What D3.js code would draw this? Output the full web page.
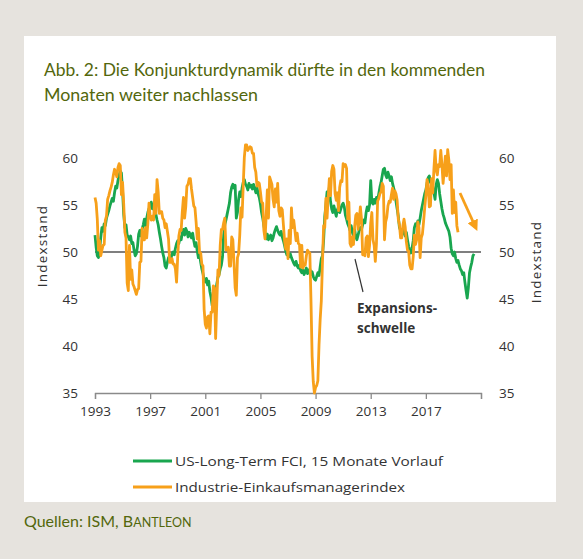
<!DOCTYPE html>
<html><head><meta charset="utf-8">
<script src="https://cdn.jsdelivr.net/npm/d3@7"></script>
<style>
html,body{margin:0;padding:0;background:#e6e3de;}
svg{display:block;}
</style></head>
<body>
<svg id="c" width="583" height="559"></svg>
<script>
// ---------- data ----------
const startYear = 1993;
const xTickYears = [1993, 1997, 2001, 2005, 2009, 2013, 2017, 2021];
const xTickLabels = ["1993", "1997", "2001", "2005", "2009", "2013", "2017", ""];
const yTicks = [35, 40, 45, 50, 55, 60];
const threshold = 50;
const seriesNames = ["US-Long-Term FCI, 15 Monate Vorlauf", "Industrie-Einkaufsmanagerindex"];
const titleLines = ["Abb. 2: Die Konjunkturdynamik dürfte in den kommenden", "Monaten weiter nachlassen"];
const axisTitle = "Indexstand";
const annotation = ["Expansions-", "schwelle"];

// US-Long-Term FCI (15 months lead), monthly from Jan 1993
const fci = [
  51.8, 50.5, 49.6, 49.4, 50.2, 51.5, 52.6, 52.2, 53.0, 52.8, 53.6, 54.0,
  54.4, 54.9, 55.3, 55.7, 55.4, 56.3, 57.0, 56.8, 57.6, 58.2, 58.6, 58.4,
  56.5, 54.0, 52.6, 52.9, 51.8, 51.6, 51.3, 51.7, 50.9, 51.0, 50.2, 49.6,
  49.8, 50.6, 51.9, 52.3, 51.7, 52.4, 52.9, 53.5, 52.8, 53.6, 54.2, 54.6,
  54.9, 55.3, 54.6, 55.1, 54.4, 54.0, 53.4, 52.9, 52.1, 51.4, 50.6, 49.9,
  49.4, 48.5, 48.3, 48.9, 49.4, 49.6, 49.2, 49.8, 50.0, 49.7, 50.4, 50.9,
  51.2, 50.9, 51.6, 51.3, 52.0, 52.4, 51.8, 52.5, 52.2, 51.6, 52.1, 51.8,
  51.5, 52.0, 51.2, 50.6, 51.0, 50.1, 49.4, 49.8, 48.9, 48.2, 47.7, 47.0,
  46.8, 47.2, 46.5, 46.9, 45.8, 45.2, 44.3, 45.0, 44.6, 45.5, 46.6, 47.3,
  47.6, 48.2, 48.6, 49.5, 51.8, 52.9, 53.4, 54.0, 54.6, 55.2, 56.3, 56.9,
  57.2, 56.8, 57.1, 53.6, 54.2, 55.6, 56.4, 55.9, 56.8, 57.4, 57.7, 57.2,
  57.0, 56.6, 57.3, 56.9, 57.1, 56.7, 57.2, 56.8, 56.3, 56.9, 56.2, 55.8,
  55.1, 54.2, 53.6, 52.8, 52.1, 51.4, 51.9, 51.3, 51.6, 51.8, 51.2, 51.5,
  52.0, 52.4, 52.7, 52.3, 52.0, 51.8, 52.2, 51.6, 51.2, 50.7, 50.1, 49.7,
  49.9, 49.5, 49.8, 49.4, 49.1, 48.8, 48.6, 49.0, 48.5, 48.3, 48.6, 48.0,
  47.8, 48.1, 47.6, 47.9, 48.3, 47.7, 48.0, 48.2, 47.6, 47.9, 47.4, 47.1,
  47.0, 47.4, 47.8, 47.5, 48.4, 49.3, 49.6, 51.2, 53.8, 55.0, 56.4, 55.8,
  56.9, 55.4, 54.6, 54.2, 54.9, 54.3, 53.8, 54.5, 54.8, 54.2, 54.6, 55.0,
  55.2, 54.8, 53.9, 53.5, 53.0, 52.7, 52.3, 52.8, 52.1, 51.7, 52.4, 51.6,
  51.3, 51.8, 52.3, 52.6, 52.4, 52.9, 53.4, 53.1, 54.2, 54.8, 54.4, 55.0,
  57.6, 55.3, 55.1, 55.6, 55.2, 55.8, 55.5, 56.2, 56.9, 57.4, 58.1, 58.8,
  58.9, 58.2, 57.9, 58.5, 58.1, 57.6, 58.0, 57.3, 56.8, 56.3, 55.4, 54.6,
  53.8, 52.6, 52.3, 51.9, 52.4, 52.0, 51.7, 52.1, 51.3, 50.6, 50.2, 49.9,
  50.4, 51.2, 52.6, 53.0, 52.8, 53.3, 52.9, 53.6, 54.4, 55.0, 55.6, 56.2,
  56.6, 57.3, 57.9, 58.1, 57.4, 57.6, 57.0, 56.3, 55.6, 57.2, 57.7, 57.3,
  56.2, 55.4, 54.6, 54.0, 53.6, 53.1, 52.8, 52.5, 52.2, 51.6, 50.4, 49.8,
  49.6, 50.0, 49.3, 48.9, 49.1, 48.6, 48.2, 48.0, 47.6, 47.8, 46.8, 45.9,
  45.1, 46.2, 47.8, 48.4, 48.9, 49.6, 49.8
];

// ISM manufacturing PMI, monthly from Jan 1993
const ism = [
  55.8, 55.2, 53.5, 50.2, 51.2, 49.6, 50.2, 50.7, 50.8, 53.4, 53.8, 55.6,
  56.0, 56.5, 56.9, 57.4, 58.2, 58.8, 58.5, 58.0, 59.0, 59.4, 59.2, 56.1,
  57.4, 55.1, 52.1, 51.5, 46.7, 45.9, 50.7, 47.1, 48.1, 46.6, 46.3, 45.9,
  45.5, 46.0, 46.1, 48.9, 49.0, 52.5, 51.3, 51.3, 52.6, 51.5, 53.0, 55.2,
  53.8, 53.4, 53.8, 53.4, 56.1, 54.1, 57.7, 56.4, 54.1, 54.3, 54.3, 53.6,
  53.4, 52.6, 53.0, 52.2, 51.4, 48.9, 48.9, 49.3, 48.7, 48.7, 48.2, 46.8,
  49.5, 51.7, 52.4, 52.3, 54.3, 55.8, 53.6, 54.8, 57.0, 57.2, 57.8, 57.8,
  56.7, 55.8, 54.9, 54.7, 53.2, 51.4, 52.5, 49.9, 49.9, 48.7, 48.5, 43.9,
  42.3, 41.9, 43.1, 43.2, 41.3, 43.6, 43.6, 46.4, 46.2, 40.8, 44.5, 48.1,
  47.5, 50.7, 52.4, 52.4, 53.1, 53.6, 50.2, 50.3, 50.5, 48.5, 48.5, 51.6,
  51.3, 48.8, 46.2, 45.4, 49.4, 49.8, 51.8, 54.7, 53.7, 57.0, 60.1, 61.4,
  61.4, 60.8, 61.0, 61.2, 61.1, 60.5, 60.5, 59.0, 58.5, 57.0, 57.4, 57.3,
  56.4, 55.3, 55.2, 52.3, 51.4, 53.8, 56.6, 53.6, 58.0, 57.6, 57.2, 55.6,
  54.8, 56.7, 55.3, 57.3, 54.4, 53.8, 54.7, 54.5, 52.9, 51.2, 50.3, 51.4,
  49.3, 52.3, 50.9, 54.7, 52.6, 53.4, 52.3, 51.2, 52.0, 50.9, 50.8, 48.4,
  50.7, 48.3, 48.6, 48.6, 49.6, 50.2, 50.0, 49.9, 44.8, 38.9, 36.2, 35.0,
  35.6, 35.8, 36.3, 40.1, 42.8, 44.8, 48.9, 52.8, 52.6, 55.7, 53.6, 55.9,
  57.8, 56.0, 58.6, 59.2, 58.8, 56.2, 55.5, 56.3, 54.4, 56.9, 57.6, 57.5,
  59.4, 59.1, 59.3, 58.9, 53.5, 55.3, 50.9, 50.6, 51.6, 50.8, 52.7, 53.9,
  54.1, 52.4, 53.4, 54.8, 53.5, 49.7, 49.8, 49.6, 51.5, 51.7, 49.5, 50.7,
  53.1, 54.2, 51.3, 50.7, 49.0, 50.9, 55.4, 55.7, 56.2, 56.4, 57.3, 57.0,
  51.3, 53.2, 53.7, 54.9, 55.4, 55.3, 56.1, 56.8, 55.6, 56.5, 56.2, 55.5,
  53.5, 52.9, 51.5, 51.5, 52.8, 53.5, 52.7, 51.1, 50.2, 50.1, 48.6, 48.2,
  48.2, 49.5, 51.8, 50.8, 51.3, 53.2, 52.6, 49.4, 51.5, 51.9, 53.2, 54.7,
  56.0, 57.7, 57.2, 54.8, 54.9, 57.8, 56.3, 58.8, 60.8, 58.7, 58.2, 59.3,
  59.1, 60.8, 59.3, 57.3, 58.7, 60.2, 58.1, 60.9, 59.8, 57.7, 59.3, 54.1,
  56.6, 54.2, 55.3, 52.8, 52.1
];

// ---------- drawing ----------
const svg = d3.select("#c");
const olive = "#53670c";
const green = "#19a64f";
const orange = "#f7a01a";

// white panel
svg.append("rect").attr("x", 24).attr("y", 36).attr("width", 532).attr("height", 466).attr("fill", "#ffffff");

// title
titleLines.forEach((t, i) => {
  svg.append("text").attr("x", 44).attr("y", 76 + i * 25)
    .attr("font-family", "Lato, 'Open Sans', sans-serif").attr("font-size", 17.5)
    .attr("fill", olive).attr("textLength", i === 0 ? 441 : 214).attr("lengthAdjust", "spacingAndGlyphs")
    .text(t);
});

const x = d3.scaleLinear().domain([1993, 2021]).range([95, 481]);
const y = d3.scaleLinear().domain([35, 60]).range([393, 158]);

const tickFont = "'Open Sans', 'Liberation Sans', sans-serif";

// x axis
const xAxis = d3.axisBottom(x).tickValues(xTickYears).tickSize(6).tickPadding(7)
  .tickFormat((d, i) => xTickLabels[i]);
const gx = svg.append("g").attr("transform", `translate(0,${y(35)})`).call(xAxis);
gx.select(".domain").attr("stroke", "#8a8a8a").attr("stroke-width", 1.3);
gx.selectAll(".tick line").attr("stroke", "#8a8a8a").attr("stroke-width", 1.3);
gx.selectAll(".tick text").attr("font-family", tickFont).attr("font-size", 13.5).attr("fill", "#333");

// left & right y labels (no axis lines)
const yl = d3.axisLeft(y).tickValues(yTicks).tickSize(0).tickPadding(0);
const gyl = svg.append("g").attr("transform", "translate(78,0)").call(yl);
gyl.select(".domain").remove();
gyl.selectAll(".tick text").attr("font-family", tickFont).attr("font-size", 13.5).attr("fill", "#333");
const yr = d3.axisRight(y).tickValues(yTicks).tickSize(0).tickPadding(0);
const gyr = svg.append("g").attr("transform", "translate(499,0)").call(yr);
gyr.select(".domain").remove();
gyr.selectAll(".tick text").attr("font-family", tickFont).attr("font-size", 13.5).attr("fill", "#333");

// axis titles
svg.append("text").attr("transform", "translate(47,246) rotate(-90)").attr("text-anchor", "middle")
  .attr("font-family", tickFont).attr("font-size", 13.5).attr("fill", "#333").attr("letter-spacing", 1.2)
  .text(axisTitle);
svg.append("text").attr("transform", "translate(541,262) rotate(-90)").attr("text-anchor", "middle")
  .attr("font-family", tickFont).attr("font-size", 13.5).attr("fill", "#333").attr("letter-spacing", 1.2)
  .text(axisTitle);

// threshold line
svg.append("line").attr("x1", x(1993)).attr("x2", x(2021)).attr("y1", y(threshold)).attr("y2", y(threshold))
  .attr("stroke", "#555").attr("stroke-width", 1.5);

const line = d3.line().x((d, i) => x(startYear + i / 12)).y(d => y(d));
svg.append("path").datum(fci).attr("d", line).attr("fill", "none").attr("stroke", green)
  .attr("stroke-width", 2.8).attr("stroke-linejoin", "round");
svg.append("path").datum(ism).attr("d", line).attr("fill", "none").attr("stroke", orange)
  .attr("stroke-width", 2.8).attr("stroke-linejoin", "round");

// orange arrow
const defs = svg.append("defs");
defs.append("marker").attr("id", "ah").attr("viewBox", "0 0 10 10").attr("refX", 5).attr("refY", 5)
  .attr("markerWidth", 4).attr("markerHeight", 4).attr("orient", "auto")
  .append("path").attr("d", "M0,0 L10,5 L0,10 z").attr("fill", orange);
svg.append("line").attr("x1", 460).attr("y1", 193).attr("x2", 475).attr("y2", 226)
  .attr("stroke", orange).attr("stroke-width", 2.8).attr("marker-end", "url(#ah)");

// annotation
svg.append("line").attr("x1", 355).attr("y1", 259).attr("x2", 363).attr("y2", 292)
  .attr("stroke", "#333").attr("stroke-width", 1.2);
annotation.forEach((t, i) => {
  svg.append("text").attr("x", 357).attr("y", 313 + i * 20)
    .attr("font-family", tickFont).attr("font-weight", "bold").attr("font-size", 13.5).attr("fill", "#333")
    .text(t);
});

// legend
const legColors = [green, orange];
seriesNames.forEach((n, i) => {
  const ly = 461 + i * 26;
  svg.append("line").attr("x1", 133).attr("x2", 172).attr("y1", ly).attr("y2", ly)
    .attr("stroke", legColors[i]).attr("stroke-width", 2.8);
  svg.append("text").attr("x", 175).attr("y", ly + 5)
    .attr("font-family", tickFont).attr("font-size", 13.5).attr("fill", "#333")
    .attr("textLength", i === 0 ? 268 : 230).attr("lengthAdjust", "spacingAndGlyphs")
    .text(n);
});

// source
const src = svg.append("text").attr("x", 24).attr("y", 527)
  .attr("font-family", "Lato, 'Open Sans', sans-serif").attr("font-size", 16).attr("fill", olive);
src.append("tspan").text("Quellen: ISM, B");
src.append("tspan").attr("font-size", 12.5).text("ANTLEON");
</script>
</body></html>
